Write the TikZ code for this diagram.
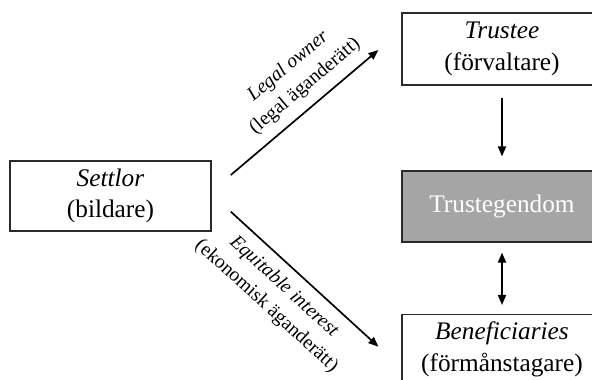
\documentclass[tikz,border=0pt]{standalone}
\usepackage{fontspec}
\setmainfont{Liberation Serif}
\usetikzlibrary{arrows.meta}
\definecolor{egendomgray}{HTML}{A5A5A5}
\definecolor{boxline}{HTML}{2A2A2A}
\begin{document}
\begin{tikzpicture}[
  every node/.style={font=\fontsize{18}{22.5}\selectfont},
  partybox/.style={draw=boxline,line width=0.8pt,align=center,minimum width=5cm,minimum height=1.75cm},
  rellabel/.style={font=\fontsize{14}{18.5}\selectfont,sloped,align=center,inner sep=7pt},
  relarrow/.style={line width=1.2pt,-{Triangle[length=2.5mm,width=2mm]}},
  bothways/.style={line width=1.2pt,{Triangle[length=2.5mm,width=2mm]}-{Triangle[length=2.5mm,width=2mm]}}
]
%width=14.8cm
%height=9.5cm
\clip (0,0) rectangle (14.8,9.5);
% boxes
\node[partybox,minimum width=5.025cm] (settlor) at (2.7625,4.6) {\textit{Settlor}\\(bildare)};
\node[partybox,minimum height=1.8cm] (trustee) at (12.55,8.275) {\textit{Trustee}\\(förvaltare)};
\node[partybox,minimum height=1.775cm,fill=egendomgray,text=white] (egendom) at (12.55,4.3375) {Trustegendom};
\node[partybox,anchor=north] (benef) at (12.55,1.65) {\textit{Beneficiaries}\\(förmånstagare)};
% coordinates
\coordinate (legalA) at (5.77,5.125);
\coordinate (legalB) at (9.46,8.25);
\coordinate (equitA) at (5.77,4.2075);
\coordinate (equitB) at (9.46,0.8325);
% arrows
\draw[relarrow] (legalA) -- node[rellabel,above,pos=0.59] {\textit{Legal owner}\\(legal äganderätt)} (legalB);
\draw[relarrow] (equitA) -- node[rellabel,below,pos=0.45] {\textit{Equitable interest}\\(ekonomisk äganderätt)} (equitB);
\draw[relarrow,shorten <=0.3cm,shorten >=0.35cm] (trustee.south) -- (egendom.north);
\draw[bothways,shorten <=0.25cm,shorten >=0.225cm] (egendom.south) -- (benef.north);
\end{tikzpicture}
\end{document}
